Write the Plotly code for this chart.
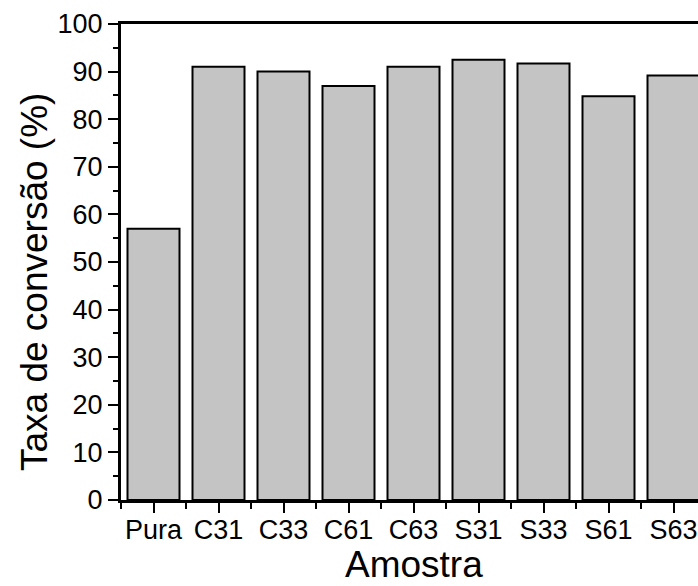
import plotly.graph_objects as go

categories = ["Pura", "C31", "C33", "C61", "C63", "S31", "S33", "S61", "S63"]
conversion = [57.0, 91.0, 90.0, 87.0, 91.0, 92.5, 91.7, 84.8, 89.2]
y_ticks = [0, 10, 20, 30, 40, 50, 60, 70, 80, 90, 100]

positions = list(range(len(categories)))
minor_x = [p - 0.5 for p in positions] + [positions[-1] + 0.5]

fig = go.Figure()
fig.add_trace(go.Bar(
    x=positions, y=conversion, width=0.8,
    marker=dict(color="#c4c4c4", line=dict(color="black", width=2)),
))

font = "Liberation Sans, Arial, sans-serif"
fig.update_layout(
    width=698, height=586,
    margin=dict(l=121, r=0, t=24, b=86),
    plot_bgcolor="white", paper_bgcolor="white",
    showlegend=False,
    font=dict(family=font, color="black"),
    xaxis=dict(
        range=[-0.5, 8.377], tickmode="array", tickvals=positions, ticktext=categories,
        ticks="outside", ticklen=10, tickwidth=2, tickcolor="black",
        minor=dict(tickvals=minor_x, ticks="outside", ticklen=6, tickwidth=2, tickcolor="black"),
        showline=True, linecolor="black", linewidth=3, mirror=True,
        showgrid=False, zeroline=False,
        tickfont=dict(size=27, family=font),
        ticklabelstandoff=-6,
    ),
    yaxis=dict(
        range=[0, 100], tickmode="array", tickvals=y_ticks,
        ticks="outside", ticklen=10, tickwidth=2, tickcolor="black",
        minor=dict(dtick=5, tick0=0, ticks="outside", ticklen=5, tickwidth=2, tickcolor="black"),
        showline=True, linecolor="black", linewidth=3, mirror=False,
        showgrid=False, zeroline=False,
        tickfont=dict(size=27, family=font),
    ),
    annotations=[
        dict(text="Taxa de conversão (%)", textangle=-90,
             xref="paper", yref="paper", x=-0.149, y=0.458,
             xanchor="center", yanchor="middle", showarrow=False,
             font=dict(size=37, family=font, color="black")),
        dict(text="Amostra", xref="x", yref="paper", x=4, y=-0.136,
             xanchor="center", yanchor="middle", showarrow=False,
             font=dict(size=37, family=font, color="black")),
    ],
)

fig.write_html(
    "out.html",
    config={"displayModeBar": False},
    post_script="document.body.style.margin='0';document.body.style.overflow='hidden';",
)
